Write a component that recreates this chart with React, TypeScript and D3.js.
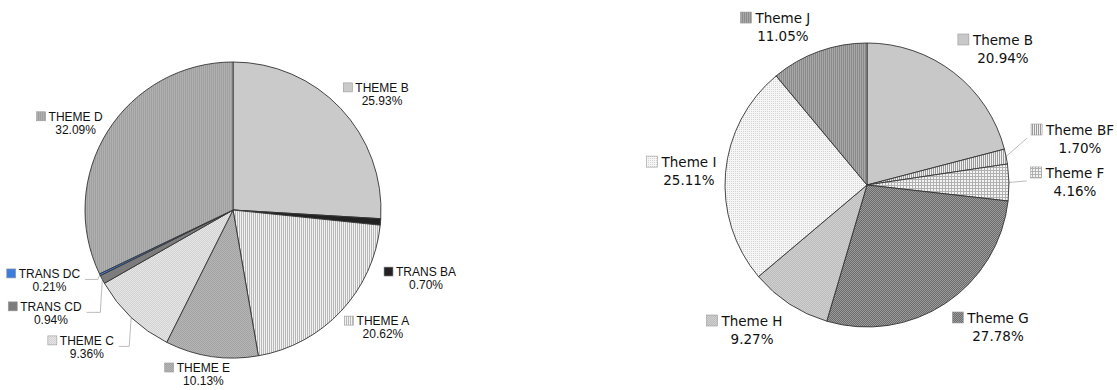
import React, { useEffect, useRef } from "react";
import * as d3 from "d3";

// ---- data ----
const leftCategories = ["THEME B", "TRANS BA", "THEME A", "THEME E", "THEME C", "TRANS CD", "TRANS DC", "THEME D"];
const leftValues = [25.93, 0.7, 20.62, 10.13, 9.36, 0.94, 0.21, 32.09];
const rightCategories = ["Theme B", "Theme BF", "Theme F", "Theme G", "Theme H", "Theme I", "Theme J"];
const rightValues = [20.94, 1.7, 4.16, 27.78, 9.27, 25.11, 11.05];

// ---- styles ----
const leftFills = ["#cacaca", "#222222", "url(#pA)", "url(#pE)", "url(#pC)", "#7c7c7c", "#3b7ddd", "url(#pD)"];
const leftNudges: [number, number][] = [
  [19.5, 4], [15.6, 51.7], [19.8, -6.3], [-3.7, -14.1], [-23.7, 5.7], [-24.9, 17.3], [-23.5, -9.9], [-6.8, 5.7],
];
const leftLeaders = [false, false, false, false, true, true, true, false];

const rightFills = ["#c8c8c8", "url(#pBF)", "url(#pF)", "url(#pG)", "url(#pH)", "url(#pI)", "url(#pJ)"];
const rightNudges: [number, number][] = [
  [30.8, -3.9], [44.5, -15.5], [36, -4], [36, -5.4], [-20.9, -3], [-6.7, -2.8], [-25.6, -0.2],
];
const rightLeaders = [false, true, true, false, false, false, false];

type PieCfg = {
  cx: number; cy: number; r: number; gap: number;
  cats: string[]; values: number[]; fills: string[]; nudges: [number, number][]; leaders: boolean[];
  font: string; fontSize: number; lineH: number; sq: number; sqGap: number; side: "left" | "right";
};

function drawPie(svg: d3.Selection<SVGSVGElement, unknown, null, undefined>, cfg: PieCfg) {
  const g = svg.append("g");
  const pie = d3.pie<number>().sort(null).value((d) => d).startAngle(0).endAngle(2 * Math.PI);
  const arcs = pie(cfg.values);
  const arc = d3.arc<d3.PieArcDatum<number>>().innerRadius(0).outerRadius(cfg.r);
  const lg = g.append("g");
  g.append("g")
    .attr("transform", `translate(${cfg.cx},${cfg.cy})`)
    .selectAll("path")
    .data(arcs)
    .join("path")
    .attr("d", arc as any)
    .attr("fill", (_d, i) => cfg.fills[i])
    .attr("stroke", "#333")
    .attr("stroke-width", 0.9)
    .attr("stroke-linejoin", "round");

  arcs.forEach((a, i) => {
    const mid = (a.startAngle + a.endAngle) / 2;
    const bx = cfg.cx + Math.sin(mid) * (cfg.r + cfg.gap) + cfg.nudges[i][0];
    const by = cfg.cy - Math.cos(mid) * (cfg.r + cfg.gap) + cfg.nudges[i][1];
    const t1 = g.append("text")
      .attr("x", bx).attr("y", by)
      .attr("text-anchor", "middle")
      .attr("font-family", cfg.font)
      .attr("font-size", cfg.fontSize)
      .attr("fill", "#111")
      .text(cfg.cats[i]);
    const w = (t1.node() as SVGTextElement).getComputedTextLength();
    const nameLeft = bx - w / 2;
    const sqX = nameLeft - cfg.sqGap - cfg.sq;
    g.append("rect")
      .attr("x", sqX).attr("y", by - cfg.sq)
      .attr("width", cfg.sq).attr("height", cfg.sq)
      .attr("fill", cfg.fills[i])
      .attr("stroke", "#9a9a9a").attr("stroke-width", 0.6);
    g.append("text")
      .attr("x", bx).attr("y", by + cfg.lineH)
      .attr("text-anchor", "middle")
      .attr("font-family", cfg.font)
      .attr("font-size", cfg.fontSize)
      .attr("fill", "#111")
      .text(cfg.values[i].toFixed(2) + "%");
    if (cfg.leaders[i]) {
      const ex = cfg.cx + Math.sin(mid) * cfg.r;
      const ey = cfg.cy - Math.cos(mid) * cfg.r;
      let pts: [number, number][];
      if (cfg.side === "left") {
        const ly = by + 1.5;
        pts = [[ex, ey], [ex - 2, ly], [nameLeft + w + 5, ly]];
      } else {
        pts = [[ex, ey], [sqX - 4, by + 3]];
      }
      lg.append("path")
        .attr("d", d3.line()(pts) as string)
        .attr("fill", "none")
        .attr("stroke", "#b4b4b4")
        .attr("stroke-width", 0.9);
    }
  });
}

export default function App() {
  const ref = useRef<SVGSVGElement>(null);
  useEffect(() => {
    const svg = d3.select(ref.current!);
    svg.selectAll("*").remove();
    const defs = svg.append("defs");
    const stripe = (id: string, bg: string, fg: string, w = 2) => {
      const p = defs.append("pattern").attr("id", id).attr("patternUnits", "userSpaceOnUse").attr("width", w).attr("height", 2);
      p.append("rect").attr("width", w).attr("height", 2).attr("fill", bg);
      p.append("rect").attr("width", 1).attr("height", 2).attr("fill", fg);
    };
    const checker = (id: string, a: string, b: string) => {
      const p = defs.append("pattern").attr("id", id).attr("patternUnits", "userSpaceOnUse").attr("width", 2).attr("height", 2);
      p.append("rect").attr("width", 2).attr("height", 2).attr("fill", a);
      p.append("rect").attr("width", 1).attr("height", 1).attr("fill", b);
      p.append("rect").attr("x", 1).attr("y", 1).attr("width", 1).attr("height", 1).attr("fill", b);
    };
    const grid = (id: string, bg: string, fg: string, s: number) => {
      const p = defs.append("pattern").attr("id", id).attr("patternUnits", "userSpaceOnUse").attr("width", s).attr("height", s);
      p.append("rect").attr("width", s).attr("height", s).attr("fill", bg);
      p.append("rect").attr("width", s).attr("height", 1).attr("fill", fg);
      p.append("rect").attr("width", 1).attr("height", s).attr("fill", fg);
    };
    const dots = (id: string, bg: string, fg: string, s: number) => {
      const p = defs.append("pattern").attr("id", id).attr("patternUnits", "userSpaceOnUse").attr("width", s).attr("height", s);
      p.append("rect").attr("width", s).attr("height", s).attr("fill", bg);
      p.append("rect").attr("width", 1).attr("height", 1).attr("fill", fg);
    };
    stripe("pA", "#f2f2f2", "#b8b8b8");
    checker("pE", "#a2a2a2", "#b6b6b6");
    checker("pC", "#e6e6e6", "#d2d2d2");
    stripe("pD", "#b0b0b0", "#a0a0a0");
    stripe("pBF", "#f0f0f0", "#9a9a9a");
    grid("pF", "#f4f4f4", "#b0b0b0", 3);
    checker("pG", "#6a6a6a", "#9c9c9c");
    checker("pH", "#bcbcbc", "#d0d0d0");
    dots("pI", "#f6f6f6", "#d4d4d4", 2);
    stripe("pJ", "#a8a8a8", "#8a8a8a");

    drawPie(svg, {
      cx: 233, cy: 210, r: 148, gap: 30,
      cats: leftCategories, values: leftValues, fills: leftFills, nudges: leftNudges, leaders: leftLeaders,
      font: "'Liberation Sans', Arial, sans-serif", fontSize: 12, lineH: 13, sq: 9, sqGap: 3, side: "left",
    });
    drawPie(svg, {
      cx: 867, cy: 185, r: 142, gap: 30,
      cats: rightCategories, values: rightValues, fills: rightFills, nudges: rightNudges, leaders: rightLeaders,
      font: "'DejaVu Sans', Verdana, sans-serif", fontSize: 13.5, lineH: 18, sq: 11, sqGap: 4, side: "right",
    });
  }, []);
  return (
    <svg
      ref={ref}
      width={1117}
      height={390}
      style={{ position: "absolute", left: 0, top: 0, background: "#fff" }}
    />
  );
}
